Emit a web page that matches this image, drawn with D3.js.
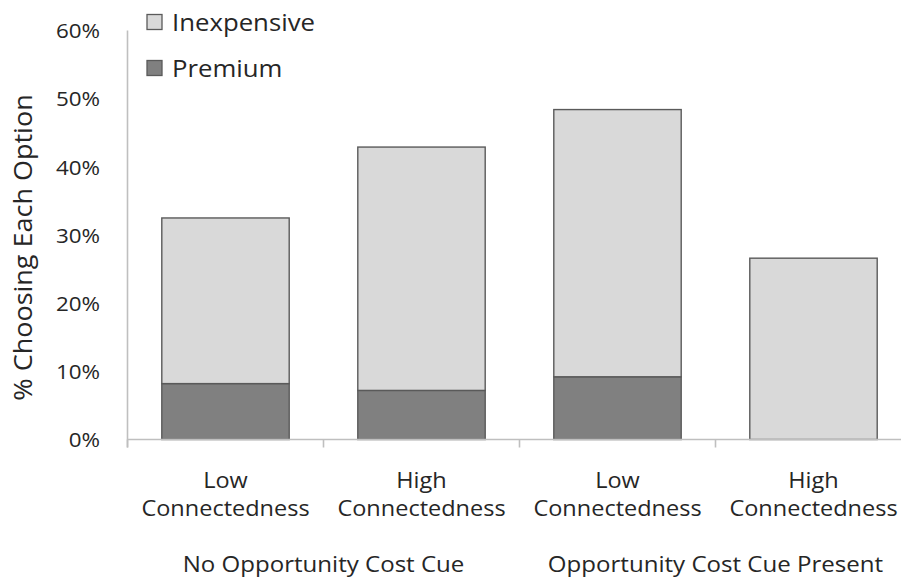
<!DOCTYPE html>
<html>
<head>
<meta charset="utf-8">
<script src="https://cdn.jsdelivr.net/npm/d3@7"></script>
<style>
  html, body { margin: 0; padding: 0; background: #fff; }
  svg text { font-family: "Open Sans", "Noto Sans", sans-serif; fill: #262626; }
</style>
</head>
<body>
<svg id="chart" width="901" height="578"></svg>
<script>
// Four conditions: connectedness level within opportunity-cost cue condition
const categories = ["NoCue-Low", "NoCue-High", "Cue-Low", "Cue-High"];
const connectLines = [["Low", "Connectedness"], ["High", "Connectedness"], ["Low", "Connectedness"], ["High", "Connectedness"]];
const groupLabels = ["No Opportunity Cost Cue", "Opportunity Cost Cue Present"];
const groupMembers = [[0, 1], [2, 3]];

// Share choosing each option (%), stacked: premium at the bottom
const premium     = [8.2, 7.2, 9.2, 0.0];
const inexpensive = [24.3, 35.7, 39.2, 26.6];

const seriesNames = ["Inexpensive", "Premium"];
const yTicks = [0, 10, 20, 30, 40, 50, 60];

const svg = d3.select("#chart");
const SX = 1.12;           // slightly wide lettering
const axisColor = "#bfbfbf";
const fills = { Inexpensive: "#d9d9d9", Premium: "#808080" };

const x0 = 127.5, xEnd = 911.5, yTop = 30.5, yBottom = 439.5;

const x = d3.scaleBand()
  .domain(categories)
  .range([x0, xEnd])
  .paddingInner(0.35)
  .paddingOuter(0.175);

const y = d3.scaleLinear().domain([0, 60]).range([yBottom, yTop]);

// y axis: labels only, plain line
const yAxis = d3.axisLeft(y)
  .tickValues(yTicks)
  .tickSize(0)
  .tickFormat(d => d + "%");

const gy = svg.append("g").attr("transform", `translate(${x0},0)`).call(yAxis);
gy.select(".domain").remove();
gy.selectAll("text")
  .attr("x", null)
  .attr("dy", "0.36em")
  .attr("transform", `translate(-27.5,0) scale(${SX},1)`)
  .style("font-size", "20px")
  .style("font-family", "'Open Sans', sans-serif")
  .style("fill", "#262626");

const tickLen = 8;

// stacked bars
const rows = categories.map((c, i) => ({ cat: c, Premium: premium[i], Inexpensive: inexpensive[i] }));
const stack = d3.stack().keys(["Premium", "Inexpensive"]);
const layers = stack(rows);

svg.append("g").selectAll("g")
  .data(layers)
  .join("g")
  .attr("fill", d => fills[d.key])
  .selectAll("rect")
  .data(d => d.filter(s => s[1] - s[0] > 0))
  .join("rect")
  .attr("x", d => x(d.data.cat))
  .attr("width", x.bandwidth())
  .attr("y", d => y(d[1]))
  .attr("height", d => y(d[0]) - y(d[1]))
  .attr("stroke", "#5a5a5a")
  .attr("stroke-width", 1.4);

// axis lines
svg.append("line")
  .attr("x1", x0).attr("x2", x0)
  .attr("y1", y(60)).attr("y2", y(0) + tickLen)
  .attr("stroke", axisColor).attr("stroke-width", 1.6);

svg.append("line")
  .attr("x1", x0).attr("x2", xEnd)
  .attr("y1", y(0)).attr("y2", y(0))
  .attr("stroke", axisColor).attr("stroke-width", 1.6);

// category boundary ticks
const boundaries = d3.range(categories.length + 1).map(i => x0 + i * x.step());
svg.append("g").selectAll("line")
  .data(boundaries)
  .join("line")
  .attr("x1", d => d).attr("x2", d => d)
  .attr("y1", y(0)).attr("y2", y(0) + tickLen)
  .attr("stroke", axisColor).attr("stroke-width", 1.6);

function wideText(g, tx, ty, str, size, anchor) {
  return g.append("text")
    .attr("transform", `translate(${tx},${ty}) scale(${SX},1)`)
    .attr("text-anchor", anchor || "middle")
    .style("font-size", size + "px")
    .text(str);
}

// category labels
const labG = svg.append("g");
categories.forEach((c, i) => {
  const cx = x(c) + x.bandwidth() / 2;
  wideText(labG, cx, 488, connectLines[i][0], 21);
  wideText(labG, cx, 515.5, connectLines[i][1], 21);
});

// group labels
groupLabels.forEach((g, i) => {
  const cx = d3.mean(groupMembers[i], k => x(categories[k]) + x.bandwidth() / 2);
  wideText(labG, cx, 571.5, g, 21.5);
});

// y-axis title
svg.append("text")
  .attr("transform", `translate(31.5,${(yTop + yBottom) / 2 + 12.5}) rotate(-90) scale(1.08,1)`)
  .attr("text-anchor", "middle")
  .style("font-size", "25px")
  .text("% Choosing Each Option");

// legend
const legend = svg.append("g");
seriesNames.forEach((name, i) => {
  const ly = 30.5 + i * 46;
  legend.append("rect")
    .attr("x", 147).attr("y", ly - 16)
    .attr("width", 15).attr("height", 15)
    .attr("fill", fills[name])
    .attr("stroke", "#5a5a5a").attr("stroke-width", 1.3);
  wideText(legend, 172, ly, name, 23, "start");
});
</script>
</body>
</html>
